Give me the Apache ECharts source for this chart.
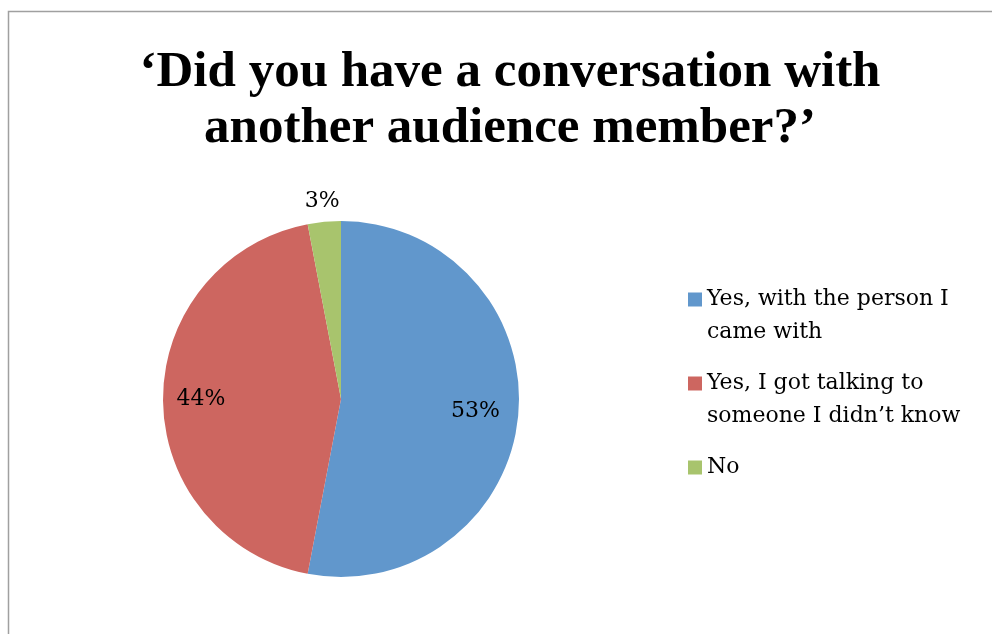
<!DOCTYPE html>
<html>
<head>
<meta charset="utf-8">
<script src="https://cdn.jsdelivr.net/npm/echarts@6/dist/echarts.min.js"></script>
<style>
  html, body { margin: 0; padding: 0; background: #ffffff; }
  #chart { width: 992px; height: 634px; }
</style>
</head>
<body>
<div id="chart"></div>
<script>
// Survey answers and their shares (percent)
const categories = [
  'Yes, with the person I came with',
  'Yes, I got talking to someone I didn\u2019t know',
  'No'
];
const legendLabels = [
  'Yes, with the person I\ncame with',
  'Yes, I got talking to\nsomeone I didn\u2019t know',
  'No'
];
const values = [53, 44, 3];
const titleText = '\u2018Did you have a conversation with\nanother audience member?\u2019';

const colors = ['#6197CC', '#CD6660', '#A8C46D'];
const titleFont = '"Liberation Serif", "DejaVu Serif", serif';
const bodyFont = '"DejaVu Serif", "Liberation Serif", serif';

const center = [341, 399];
const radius = 178;
// distance of each percentage label from the pie centre
const labelDistance = [135, 140, 199];

const chart = echarts.init(document.getElementById('chart'), null, { renderer: 'canvas' });

// Pad every legend entry to three lines so the swatch sits beside the first line
function padLegendText(text) {
  const lines = text.split('\n');
  return lines.length >= 2 ? ' \n' + text : ' \n' + text + '\n ';
}

chart.setOption({
  animation: false,
  color: colors,
  graphic: [{
    type: 'rect',
    shape: { x: 8.5, y: 11.5, width: 1100, height: 700 },
    style: { fill: 'none', stroke: '#a0a0a0', lineWidth: 1.5 },
    silent: true,
    z: -10
  }],
  title: {
    text: titleText,
    left: 505,
    top: 40,
    textAlign: 'center',
    textStyle: {
      fontFamily: titleFont,
      fontWeight: 'bold',
      fontSize: 51,
      lineHeight: 56,
      color: '#000000'
    }
  },
  legend: {
    orient: 'vertical',
    left: 688,
    top: 250,
    padding: 0,
    itemWidth: 14,
    itemHeight: 14,
    itemGap: -15,
    icon: 'rect',
    selectedMode: false,
    textStyle: {
      fontFamily: bodyFont,
      fontSize: 22,
      lineHeight: 33,
      color: '#000000'
    },
    data: categories,
    formatter: name => padLegendText(legendLabels[categories.indexOf(name)])
  },
  series: [{
    type: 'pie',
    center: center,
    radius: [0, radius],
    startAngle: 90,
    clockwise: true,
    avoidLabelOverlap: false,
    labelLine: { show: false },
    itemStyle: { borderWidth: 0 },
    label: {
      show: true,
      position: 'inside',
      formatter: p => p.value + '%',
      fontFamily: bodyFont,
      fontSize: 22,
      color: '#000000'
    },
    labelLayout: params => {
      const r = params.labelRect;
      const lx = r.x + r.width / 2;
      const ly = r.y + r.height / 2;
      const vx = lx - center[0];
      const vy = ly - center[1];
      const d = Math.sqrt(vx * vx + vy * vy) || 1;
      const t = labelDistance[params.dataIndex] / d;
      return { dx: vx * t - vx, dy: vy * t - vy };
    },
    data: categories.map((name, i) => ({ name: name, value: values[i] }))
  }]
});
</script>
</body>
</html>
